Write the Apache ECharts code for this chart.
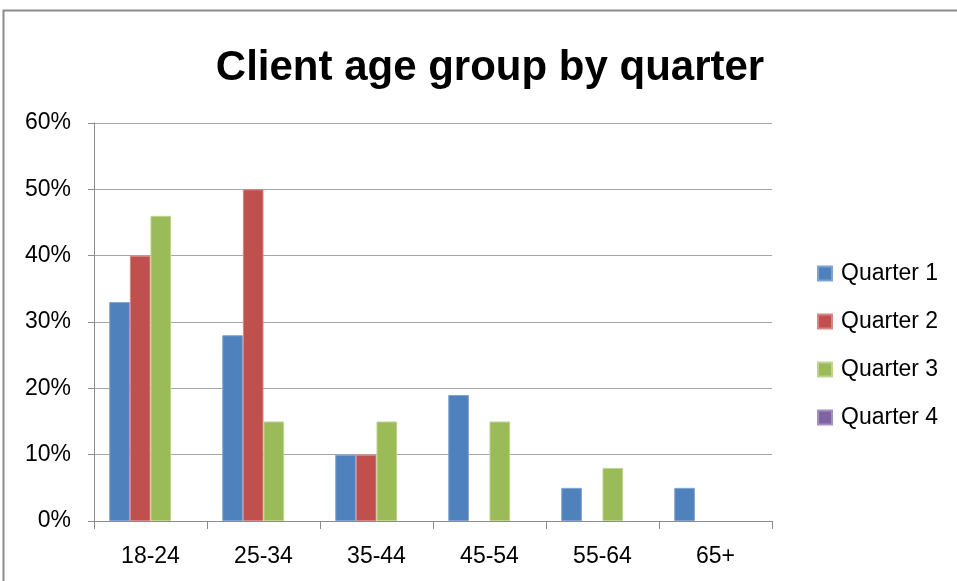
<!DOCTYPE html>
<html>
<head>
    <meta charset="utf-8">
    <title>Client age group by quarter</title>
    <script src="https://cdn.jsdelivr.net/npm/echarts@6/dist/echarts.min.js"></script>
    <style>
        html, body { margin: 0; padding: 0; background: #fff; }
    </style>
</head>
<body>
<div id="main" style="width: 957px;height:581px;"></div>
<script type="text/javascript">
    var myChart = echarts.init(document.getElementById('main'));

    // age groups on the x axis
    var ageGroups = ['18-24', '25-34', '35-44', '45-54', '55-64', '65+'];
    var seriesNames = ['Quarter 1', 'Quarter 2', 'Quarter 3', 'Quarter 4'];
    // percent per quarter, null = no bar drawn
    var quarter1 = [33, 28, 10, 19, 5, 5];
    var quarter2 = [40, 50, 10, null, null, null];
    var quarter3 = [46, 15, 15, 15, 8, null];
    var quarter4 = [null, null, null, null, null, null];
    var colors = ['#4f81bd', '#c0504d', '#9bbb59', '#8064a2'];
    var borders = ['#7fa3d1', '#d98583', '#bcd48e', '#a48fc0'];

    var allData = [quarter1, quarter2, quarter3, quarter4];

    var option = {
        backgroundColor: '#fff',
        animation: false,
        textStyle: { fontFamily: 'Liberation Sans' },
        title: {
            text: 'Client age group by quarter',
            left: 485,
            top: 42,
            textAlign: 'center',
            textStyle: {
                fontFamily: 'Liberation Sans',
                fontSize: 42,
                fontWeight: 'bold',
                color: '#000'
            }
        },
        graphic: [{
            type: 'rect',
            shape: { x: 3.5, y: 10.5, width: 1000, height: 700 },
            style: { fill: 'none', stroke: '#8c8c8c', lineWidth: 2 },
            silent: true
        }],
        legend: {
            orient: 'vertical',
            left: 812,
            top: 257,
            itemWidth: 14,
            itemHeight: 14,
            itemGap: 25,
            icon: 'rect',
            data: seriesNames,
            textStyle: { fontSize: 23, color: '#000', padding: [0, 0, 0, 4] }
        },
        grid: {
            left: 94,
            right: 185,
            top: 123,
            bottom: 60
        },
        xAxis: {
            type: 'category',
            data: ageGroups,
            axisLine: { lineStyle: { color: '#8c8c8c', width: 1 } },
            axisTick: { show: true, length: 8, lineStyle: { color: '#8c8c8c' } },
            axisLabel: { fontSize: 23, color: '#000', margin: 24 }
        },
        yAxis: {
            type: 'value',
            min: 0,
            max: 60,
            interval: 10,
            axisLine: { show: true, lineStyle: { color: '#8c8c8c' } },
            axisTick: { show: true, length: 6, lineStyle: { color: '#8c8c8c' } },
            splitLine: { lineStyle: { color: '#a6a6a6', width: 1 } },
            axisLabel: {
                fontSize: 23,
                color: '#000',
                margin: 23,
                formatter: '{value}%'
            }
        },
        series: seriesNames.map(function (name, i) {
            return {
                name: name,
                type: 'bar',
                barGap: '0%',
                barCategoryGap: '27%',
                itemStyle: { color: colors[i], borderColor: borders[i], borderWidth: 1 },
                data: allData[i]
            };
        })
    };

    myChart.setOption(option);
</script>
</body>
</html>
